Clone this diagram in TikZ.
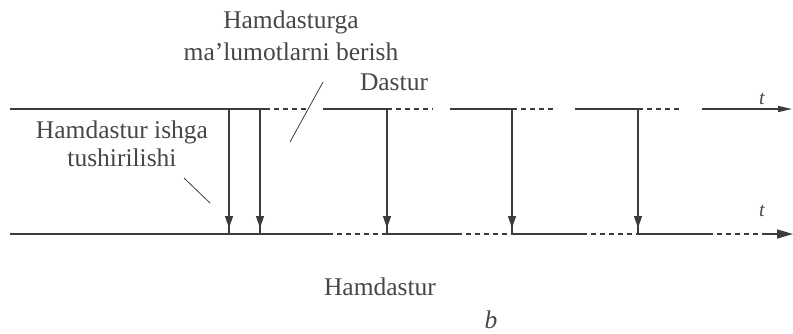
\documentclass[tikz,border=0pt]{standalone}
\usepackage{fontspec}
\setmainfont{Liberation Serif}
\usetikzlibrary{arrows.meta}
\definecolor{ink}{HTML}{3C3C3C}
\definecolor{txt}{HTML}{474747}
\tikzset{
  axisline/.style={draw=ink, line width=1.5pt},
  dashline/.style={draw=ink, line width=1.2pt, dash pattern=on 5pt off 4pt},
  vline/.style={draw=ink, line width=1.3pt},
  vtip/.style={draw=ink, line width=1.3pt, shorten >=6pt, -{Triangle[length=12pt,width=8pt]}},
  rtip/.style={draw=ink, line width=1.5pt, -{Triangle[length=16pt,width=9pt]}},
  leader/.style={draw=ink, line width=0.8pt},
  lbl/.style={font=\fontsize{25.5}{28}\selectfont, text=txt, inner sep=0pt},
  tlbl/.style={font=\fontsize{20}{22}\selectfont\itshape, text=txt, inner sep=0pt},
}
\begin{document}
\begin{tikzpicture}[x=1pt,y=-1pt]
\useasboundingbox (0,0) rectangle (793,333);
% top line points (y=109)
\coordinate (a0) at (10,109);
\coordinate (a1) at (265,109);
\coordinate (a2) at (310,109);
\coordinate (a3) at (323,109);
\coordinate (a4) at (387,109);
\coordinate (a5) at (433,109);
\coordinate (a6) at (450,109);
\coordinate (a7) at (512,109);
\coordinate (a8) at (557,109);
\coordinate (a9) at (575,109);
\coordinate (a10) at (638,109);
\coordinate (a11) at (682,109);
\coordinate (a12) at (702,109);
\coordinate (a13) at (792,109);
\coordinate (v1t) at (229,109);
\coordinate (v2t) at (260,109);
% bottom line points (y=234)
\coordinate (b0) at (10,234);
\coordinate (b1) at (328,234);
\coordinate (b2) at (387,234);
\coordinate (b3) at (457,234);
\coordinate (b4) at (512,234);
\coordinate (b5) at (582,234);
\coordinate (b6) at (638,234);
\coordinate (b7) at (708,234);
\coordinate (b8) at (763,234);
\coordinate (b9) at (793,234);
\coordinate (v1b) at (229,234);
\coordinate (v2b) at (260,234);
% top line
\draw[axisline] (a0) -- (a1);
\draw[dashline] (a1) -- (a2);
\draw[axisline] (a3) -- (a4);
\draw[dashline] (a4) -- (a5);
\draw[axisline] (a6) -- (a7);
\draw[dashline] (a7) -- (a8);
\draw[axisline] (a9) -- (a10);
\draw[dashline] (a10) -- (a11);
\draw[rtip, -{Triangle[length=14pt,width=6pt]}] (a12) -- (a13);
% bottom line
\draw[axisline] (b0) -- (b1);
\draw[dashline] (b1) -- (b2);
\draw[axisline] (b2) -- (b3);
\draw[dashline] (b3) -- (b4);
\draw[axisline] (b4) -- (b5);
\draw[dashline] (b5) -- (b6);
\draw[axisline] (b6) -- (b7);
\draw[dashline] (b7) -- (b8);
\draw[rtip] (b8) -- (b9);
% verticals
\foreach \t/\b in {v1t/v1b, v2t/v2b, a4/b2, a7/b4, a10/b6}{
  \draw[vline] (\t) -- (\b);
  \draw[vtip] (\t) -- (\b);
}
% labels
\node[lbl, anchor=base] (hg) at (291,28) {Hamdasturga};
\node[lbl, anchor=base] (ml) at (291,60) {ma'lumotlarni berish};
\node[lbl, anchor=base] (ds) at (394,90) {Dastur};
\node[lbl, anchor=base] (hi) at (122,138) {Hamdastur ishga};
\node[lbl, anchor=base] (tu) at (122,166) {tushirilishi};
\node[lbl, anchor=base] (hd) at (380,295) {Hamdastur};
\node[lbl, anchor=base, font=\fontsize{25.5}{28}\selectfont\itshape] (bb) at (491,328) {b};
\node[tlbl, anchor=base] (t1) at (762,104) {t};
\node[tlbl, anchor=base] (t2) at (762,216) {t};
% leader lines
\coordinate (l1a) at (184,178);
\coordinate (l1b) at (210,203);
\coordinate (l2a) at (290,142);
\coordinate (l2b) at (323,82);
\draw[leader] (l1a) -- (l1b);
\draw[leader] (l2a) -- (l2b);
\end{tikzpicture}
\end{document}
